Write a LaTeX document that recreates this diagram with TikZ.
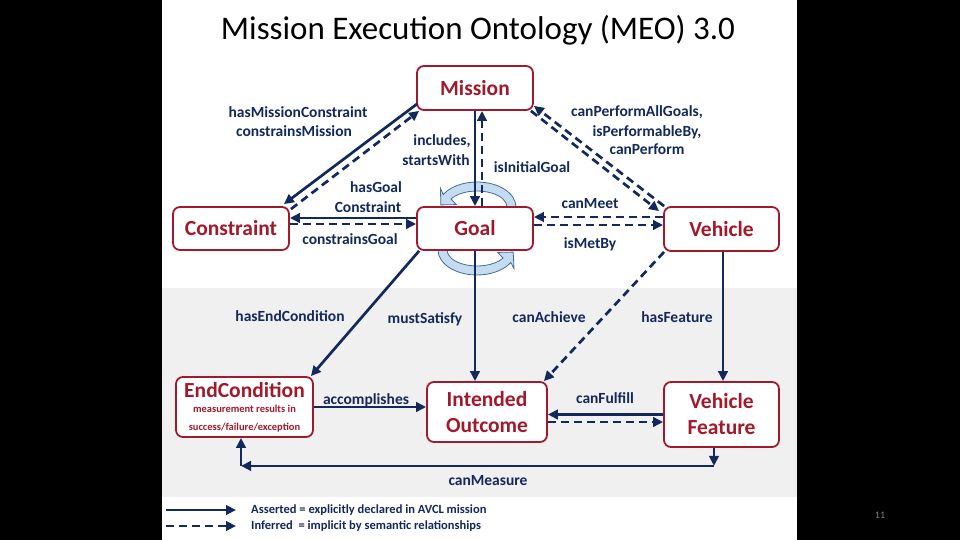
\documentclass[tikz,border=0pt]{standalone}
\usepackage{fontspec}
\setmainfont{Carlito}
\usetikzlibrary{arrows.meta,calc}
\definecolor{navy}{HTML}{13295C}
\definecolor{mred}{HTML}{A11A2C}
\definecolor{band}{HTML}{F0F0F0}
\definecolor{loopfill}{HTML}{C5DCF0}
\definecolor{loopline}{HTML}{3F6E9E}
\begin{document}
\begin{tikzpicture}[x=1pt,y=-1pt,
  box/.style={draw=mred, line width=1.8pt, rounded corners=7pt, fill=white, text=mred,
    font=\fontsize{21.5}{26}\selectfont\bfseries, align=center, inner sep=0pt},
  boxtext/.style={text=mred, inner sep=0pt},
  lbl/.style={text=navy, font=\fontsize{15.5}{19}\selectfont\bfseries, anchor=base, inner sep=0pt},
  asserted/.style={draw=navy, line width=2.7pt, -{Triangle[length=10pt,width=9.5pt]}},
  inferred/.style={asserted, dash pattern=on 8pt off 5pt},
  looparrow/.style={draw=loopline, fill=loopfill, line width=0.8pt},
  legtext/.style={anchor=west, text=navy, font=\fontsize{12.5}{14}\selectfont\bfseries, inner sep=0pt},
]
\useasboundingbox (0,0) rectangle (960,540);
\fill[black] (0,0) rectangle (960,540);
\fill[white] (162,0) rectangle (797,540);
\fill[band] (162,288) rectangle (797,497);

\node[font=\fontsize{33}{38}\selectfont, inner sep=0pt] (title) at (478,30) {Mission Execution Ontology (MEO) 3.0};

% self loops around Goal
\draw[looparrow] (516,207) arc[start angle=0, end angle=-150, x radius=39, y radius=25]
  -- (440.5,188.4) -- (440.8,204.9) -- (456.3,204.6) -- (451,199)
  arc[start angle=-150, end angle=0, x radius=30, y radius=16] -- cycle;
\draw[looparrow] (438,250) arc[start angle=180, end angle=30, x radius=39, y radius=25]
  -- (514,268.6) -- (513.2,252.1) -- (497.7,252.4) -- (503,258)
  arc[start angle=30, end angle=180, x radius=30, y radius=16] -- cycle;

% nodes
\node[box, minimum width=116, minimum height=44] (mission) at (475,88) {Mission};
\node[box, minimum width=116, minimum height=43] (goal) at (475,228.5) {Goal};
\node[box, minimum width=116, minimum height=43] (constraint) at (231,228.5) {Constraint};
\node[box, minimum width=115, minimum height=44] (vehicle) at (721.5,229) {Vehicle};
\node[box, minimum width=137, minimum height=60] (endc) at (244.5,407) {};
\node[box, minimum width=120, minimum height=60] (io) at (487,412) {Intended\\Outcome};
\node[box, minimum width=115, minimum height=65] (vf) at (721.5,414.5) {Vehicle\\Feature};
\node[boxtext, font=\fontsize{21.5}{26}\selectfont\bfseries] (ectitle) at (244.5,390) {EndCondition};
\node[boxtext, font=\fontsize{10.5}{12}\selectfont\bfseries] (ecline1) at (244.5,408.5) {measurement results in};
\node[boxtext, font=\fontsize{10.5}{12}\selectfont\bfseries] (ecline2) at (244.5,428) {success/failure/exception};

% connectors
\draw[asserted] ($(mission.south west)+(1,-7)$) -- ($(constraint.north east)+(-6,-2)$);
\draw[inferred] ($(constraint.north east)+(1,3)$) -- ($(mission.south west)+(3,0)$);
\draw[asserted] (mission.south) -- (goal.north);
\draw[inferred] ($(goal.north)+(7,0)$) -- ($(mission.south)+(7,0)$);
\draw[inferred] ($(vehicle.north west)+(1,0)$) -- ($(mission.south east)+(0,-5)$);
\draw[inferred] ($(mission.south east)+(-3,0)$) -- ($(vehicle.north west)+(-4,5)$);
\draw[inferred] ($(vehicle.west)+(0,-12)$) -- ($(goal.east)+(0,-11.5)$);
\draw[inferred] ($(goal.east)+(0,-3.5)$) -- ($(vehicle.west)+(0,-4)$);
\draw[asserted] ($(goal.west)+(0,-10.5)$) -- ($(constraint.east)+(0,-10.5)$);
\draw[inferred] ($(constraint.east)+(0,-4.5)$) -- ($(goal.west)+(0,-4.5)$);
\draw[asserted] ($(goal.south west)+(3,0)$) -- ($(endc.north east)+(-3,0)$);
\draw[asserted] (goal.south) -- (goal.south |- io.north);
\draw[inferred] ($(vehicle.south west)+(1,0)$) -- ($(io.north east)+(-4,0)$);
\coordinate (hf) at ($(vehicle.south)+(1.5,0)$);
\draw[asserted] (hf) -- (hf |- vf.north);
\draw[asserted] (endc.east) -- (endc.east -| io.west);
\draw[asserted] (vf.west) -- (vf.west -| io.east);
\coordinate (cf) at ($(io.east)+(0,10)$);
\draw[inferred] (cf) -- (cf -| vf.west);
\coordinate (m1) at ($(vf.south)+(-7.5,18)$);
\coordinate (m2) at ($(m1 -| endc.south)+(-3.5,0)$);
\draw[asserted] (vf.south -| m1) -- (m1);
\draw[asserted] (m1) -- (m2);
\draw[asserted] (m2) -- (m2 |- endc.south);

% labels
\node[lbl] (t1) at (298,118) {hasMissionConstraint};
\node[lbl] (t2) at (294,137) {constrainsMission};
\node[lbl] (t3) at (442,146) {includes,};
\node[lbl] (t4) at (436,165) {startsWith};
\node[lbl] (t5) at (532,173) {isInitialGoal};
\node[lbl] (t6) at (376,192) {hasGoal};
\node[lbl] (t7) at (368,212) {Constraint};
\node[lbl] (t8) at (350,244) {constrainsGoal};
\node[lbl] (t9) at (637,117) {canPerformAllGoals,};
\node[lbl] (t10) at (647,137) {isPerformableBy,};
\node[lbl] (t11) at (647,155) {canPerform};
\node[lbl] (t12) at (590,208) {canMeet};
\node[lbl] (t13) at (590,248) {isMetBy};
\node[lbl] (t14) at (290,321) {hasEndCondition};
\node[lbl] (t15) at (425,323) {mustSatisfy};
\node[lbl] (t16) at (549,322) {canAchieve};
\node[lbl] (t17) at (677,322) {hasFeature};
\node[lbl] (t18) at (366,404) {accomplishes};
\node[lbl] (t19) at (605,403) {canFulfill};
\node[lbl] (t20) at (488,485) {canMeasure};

% legend
\coordinate (la1) at (166,510);
\coordinate (la2) at (236,510);
\coordinate (lb1) at (166,526);
\coordinate (lb2) at (236,526);
\draw[asserted] (la1) -- (la2);
\draw[inferred] (lb1) -- (lb2);
\node[legtext] (leg1) at (251,510) {Asserted = explicitly declared in AVCL mission};
\node[legtext] (leg2) at (251,526) {Inferred\ \ = implicit by semantic relationships};

\node[text=gray, font=\fontsize{10}{12}\selectfont, inner sep=0pt] (pnum) at (880,515) {11};
\end{tikzpicture}
\end{document}
